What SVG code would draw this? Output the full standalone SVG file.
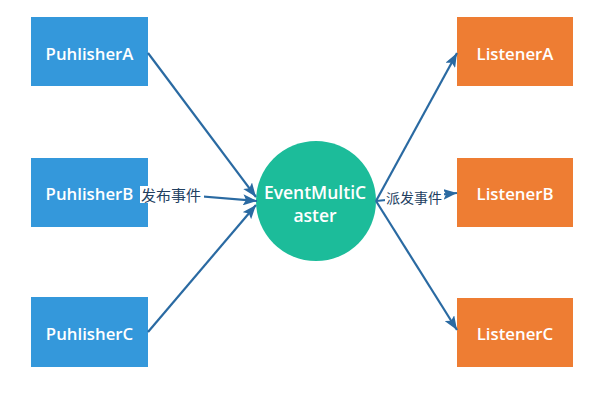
<svg xmlns="http://www.w3.org/2000/svg" width="605" height="410" viewBox="0 0 605 410">
<defs>
<style>
.pub{fill:#3498db;}
.lis{fill:#ee7d33;}
.hub{fill:#1cbc9a;}
.t{font-family:"Open Sans","Liberation Sans",sans-serif;font-weight:600;fill:#ffffff;text-anchor:middle;dominant-baseline:central;}
.bx{font-size:16.8px;}
.hb{font-size:17.5px;}
.edge{stroke:#2a6aa2;stroke-width:2.2;fill:none;marker-end:url(#ah);}
.lbl{font-family:"Noto Sans CJK SC","Noto Sans",sans-serif;fill:#22405f;dominant-baseline:central;}
</style>
<marker id="ah" viewBox="0 0 14 11" refX="14" refY="5.5" markerWidth="14" markerHeight="11" markerUnits="userSpaceOnUse" orient="auto">
<path d="M0,0 L14,5.5 L0,11 L3,5.5 Z" fill="#2a6aa2"/>
</marker>
</defs>
<rect width="605" height="410" fill="#ffffff"/>
<g id="PublisherA"><rect class="pub" x="31" y="17" width="117" height="69"/><text class="t bx" x="89.5" y="53">PuhlisherA</text></g>
<g id="PublisherB"><rect class="pub" x="31" y="158" width="117" height="69"/><text class="t bx" x="89.5" y="193">PuhlisherB</text></g>
<g id="PublisherC"><rect class="pub" x="31" y="297" width="117" height="70"/><text class="t bx" x="89.5" y="333">PuhlisherC</text></g>
<g id="EventMultiCaster"><circle class="hub" cx="316" cy="201" r="60"/><text class="t hb" x="315" y="191.5">EventMultiC</text><text class="t hb" x="315" y="215">aster</text></g>
<g id="ListenerA"><rect class="lis" x="457" y="17" width="116" height="69"/><text class="t bx" x="515" y="53">ListenerA</text></g>
<g id="ListenerB"><rect class="lis" x="457" y="158" width="116" height="69"/><text class="t bx" x="515" y="193">ListenerB</text></g>
<g id="ListenerC"><rect class="lis" x="457" y="298" width="116" height="69"/><text class="t bx" x="515" y="333">ListenerC</text></g>
<g id="connectors">
<line class="edge" x1="148" y1="53" x2="256" y2="197"/>
<line class="edge" x1="148" y1="192" x2="257" y2="201"/>
<line class="edge" x1="148" y1="332" x2="256" y2="205"/>
<line class="edge" x1="376" y1="201" x2="457" y2="53"/>
<line class="edge" x1="376" y1="201" x2="457" y2="193"/>
<line class="edge" x1="376" y1="201" x2="457" y2="330"/>
<rect x="140" y="186" width="64" height="17" fill="#ffffff"/>
<text class="lbl" x="141" y="194.5" font-size="15">发布事件</text>
<rect x="385" y="189" width="59" height="16" fill="#ffffff"/>
<text class="lbl" x="386" y="197" font-size="14">派发事件</text>
</g>
</svg>
